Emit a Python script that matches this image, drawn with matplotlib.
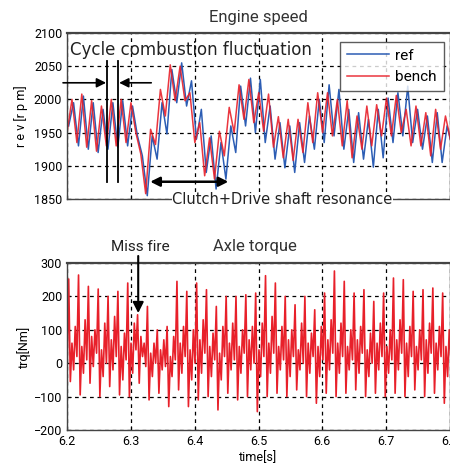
import matplotlib
matplotlib.use("Agg")
import matplotlib.pyplot as plt
import numpy as np
from matplotlib import font_manager

# ---- data ----
# engine speed, alternating peak/trough values every half firing cycle
t_start = 6.2
half_cycle = 0.0077
bench_rpm = [1950, 2000, 1935, 2008, 1928, 1998, 1922, 1990, 1930, 2000,
             1930, 2000, 1935, 1995, 1950, 1918, 1858, 1955, 1932, 2015,
             1975, 2052, 1998, 2050, 1998, 2010, 1935, 1965, 1885, 1942,
             1880, 1952, 1915, 1988, 1950, 2022, 1970, 2030, 1965, 2010,
             1952, 2008, 1928, 1974, 1912, 1970, 1908, 1970, 1920, 1995,
             1935, 2010, 1950, 2010, 1945, 2000, 1930, 1998, 1912, 1975,
             1925, 1990, 1930, 1992, 1945, 2002, 1945, 2006, 1950, 1985,
             1930, 1990, 1930, 1980, 1915, 1985, 1925, 1975, 1940]
ref_rpm = [1960, 1995, 1930, 2005, 1925, 1995, 1920, 1985, 1925, 1995,
           1928, 1998, 1930, 1990, 1945, 1915, 1855, 1945, 1910, 1995,
           1948, 2045, 1995, 2055, 1990, 2028, 1940, 1985, 1890, 1945,
           1865, 1935, 1880, 1960, 1920, 2020, 1960, 2032, 1950, 2030,
           1935, 1990, 1910, 1965, 1897, 1960, 1890, 1965, 1905, 1975,
           1925, 2000, 1935, 2022, 1945, 2015, 1925, 1985, 1905, 1980,
           1910, 1970, 1898, 1985, 1912, 2002, 1935, 2010, 1945, 2020,
           1935, 1985, 1925, 1975, 1905, 1980, 1905, 1960, 1930]
ref_lag = 0.0025

# axle torque: per firing cycle [peak, trough, a, b, c, d]
trq_first = -40
trq_step = 0.00257
trq_cycles = [
    [252, -55, 60, -20, 110, 20], [264, -95, 50, -30, 130, 10],
    [230, -60, 80, -10, 100, 30], [222, -100, 40, -40, 120, 0],
    [200, -70, 70, -20, 140, 20], [215, -95, 50, -50, 90, 10],
    [240, -100, 60, -30, 120, 40], [145, -60, 80, 20, 60, -10],
    [170, -110, 30, -40, 60, 0], [100, -90, 40, -20, 70, -10],
    [110, -130, 20, -40, 80, 10], [245, -80, 60, -30, 110, 20],
    [215, -130, 40, -50, 100, 0], [240, -110, 70, -30, 130, 30],
    [220, -100, 50, -40, 90, 10], [170, -140, 30, -50, 110, 20],
    [200, -90, 60, -20, 120, 10], [200, -110, 50, -30, 100, 30],
    [205, -100, 70, -20, 110, 0], [210, -145, 40, -40, 120, 20],
    [262, -100, 60, -30, 140, 30], [240, -90, 50, -20, 110, 10],
    [200, -100, 70, -40, 100, 20], [175, -80, 40, -20, 120, 0],
    [200, -100, 60, -30, 90, 20], [160, -120, 50, -40, 110, 10],
    [210, -90, 70, -20, 130, 30], [276, -100, 60, -30, 120, 20],
    [245, -90, 50, -20, 100, 10], [210, -80, 70, -30, 110, 30],
    [220, -100, 40, -40, 90, 0], [185, -90, 60, -20, 120, 20],
    [210, -100, 50, -30, 100, 10], [255, -90, 70, -20, 130, 30],
    [250, -100, 60, -40, 110, 20], [215, -80, 50, -20, 100, 10],
    [220, -100, 70, -30, 120, 30], [225, -90, 60, -20, 110, 20],
    [210, -120, 50, -40, 100, 10],
]

x_ticks = [6.2, 6.3, 6.4, 6.5, 6.6, 6.7, 6.8]
x_labels = ['6.2', '6.3', '6.4', '6.5', '6.6', '6.7', '6.8']
rpm_ticks = [1850, 1900, 1950, 2000, 2050, 2100]
trq_ticks = [-200, -100, 0, 100, 200, 300]

# ---- fonts ----
names = {f.name for f in font_manager.fontManager.ttflist}
fams = [n for n in ('Liberation Sans Narrow', 'Roboto') if n in names]
plt.rcParams['font.family'] = fams + ['DejaVu Sans']
narrow_ok = 'Liberation Sans Narrow' in names
tick_size = 10 if narrow_ok else 9

BLUE = '#2c5db4'
RED = '#e8202a'

fig = plt.figure(figsize=(4.5, 4.72), dpi=100)
ax1 = fig.add_axes([0.149, 0.5784, 0.851, 0.3517])
ax2 = fig.add_axes([0.149, 0.089, 0.851, 0.3538])

tb = t_start + half_cycle * np.arange(len(bench_rpm))
tr = t_start + ref_lag + half_cycle * np.arange(len(ref_rpm))
ax1.plot(tr, ref_rpm, color=BLUE, lw=1.1, label='ref')
ax1.plot(tb, bench_rpm, color=RED, lw=1.1, label='bench', alpha=0.9)

trq = [trq_first] + [v for row in trq_cycles for v in row]
tt = t_start + trq_step * np.arange(len(trq))
ax2.plot(tt, trq, color=RED, lw=1.2)

for ax, yt in ((ax1, rpm_ticks), (ax2, trq_ticks)):
    ax.set_xlim(6.2, 6.8)
    ax.set_ylim(yt[0], yt[-1])
    ax.set_xticks(x_ticks)
    ax.set_yticks(yt)
    ax.grid(True, color='k', ls=(0, (3, 3)), lw=0.9)
    ax.tick_params(direction='in', length=3, labelsize=tick_size, width=0.8)
    for s in ax.spines.values():
        s.set_color('#444444')
        s.set_linewidth(1.0)
    ax.spines['top'].set_linewidth(1.6)

ax1.set_xticklabels([])
ax2.set_xticklabels(x_labels)
ax1.set_ylabel('r e v [r p m]', fontsize=9, labelpad=4)
ax2.set_ylabel('trq[Nm]', fontsize=9, labelpad=2)
ax2.set_xlabel('time[s]', fontsize=9, labelpad=2)

ax1.set_title('Engine speed', fontsize=12, pad=8, color='#333333')

leg = ax1.legend(loc='upper right', bbox_to_anchor=(0.984, 0.946), fancybox=False,
                 edgecolor='#333333', fontsize=11, handlelength=2.8,
                 borderpad=0.45, labelspacing=0.5, handletextpad=0.4,
                 borderaxespad=0)
leg.get_frame().set_linewidth(1.0)

# ---- annotations (engine speed) ----
ax1.text(6.2047, 2074, 'Cycle combustion fluctuation', fontsize=12,
         family=['DejaVu Sans'], va='center', ha='left', color='#222222')
ax1.plot([6.2628, 6.2628], [1876, 2058], color='k', lw=1.3, clip_on=False)
ax1.plot([6.2800, 6.2800], [1876, 2058], color='k', lw=1.3, clip_on=False)
arr = dict(arrowstyle='-|>', color='k', lw=1.2, mutation_scale=14, shrinkA=0, shrinkB=0)
ax1.annotate('', xy=(6.2612, 2025), xytext=(6.1937, 2025), arrowprops=arr,
             annotation_clip=False)
ax1.annotate('', xy=(6.2816, 2025), xytext=(6.3319, 2025), arrowprops=arr,
             annotation_clip=False)
ax1.annotate('', xy=(6.4527, 1876), xytext=(6.3303, 1876),
             arrowprops=dict(arrowstyle='<|-|>', color='k', lw=1.8,
                             mutation_scale=14, shrinkA=0, shrinkB=0))
ax1.text(6.5375, 1848.5, 'Clutch+Drive shaft resonance', fontsize=10.5,
         family=['DejaVu Sans'], ha='center', va='center', color='#222222',
         bbox=dict(facecolor='white', edgecolor='none', pad=0.5), clip_on=False)

# ---- annotations (axle torque) ----
ax2.text(6.3147, 348, 'Miss fire', fontsize=11, ha='center', va='center',
         color='#222222', clip_on=False)
ax2.text(6.4936, 348, 'Axle torque', fontsize=12, ha='center', va='center',
         color='#333333', clip_on=False)
ax2.annotate('', xy=(6.3115, 150), xytext=(6.3115, 321),
             arrowprops=dict(arrowstyle='-|>', color='k', lw=1.5,
                             mutation_scale=16, shrinkA=0, shrinkB=0),
             annotation_clip=False)

fig.savefig('out.png', dpi=100)
